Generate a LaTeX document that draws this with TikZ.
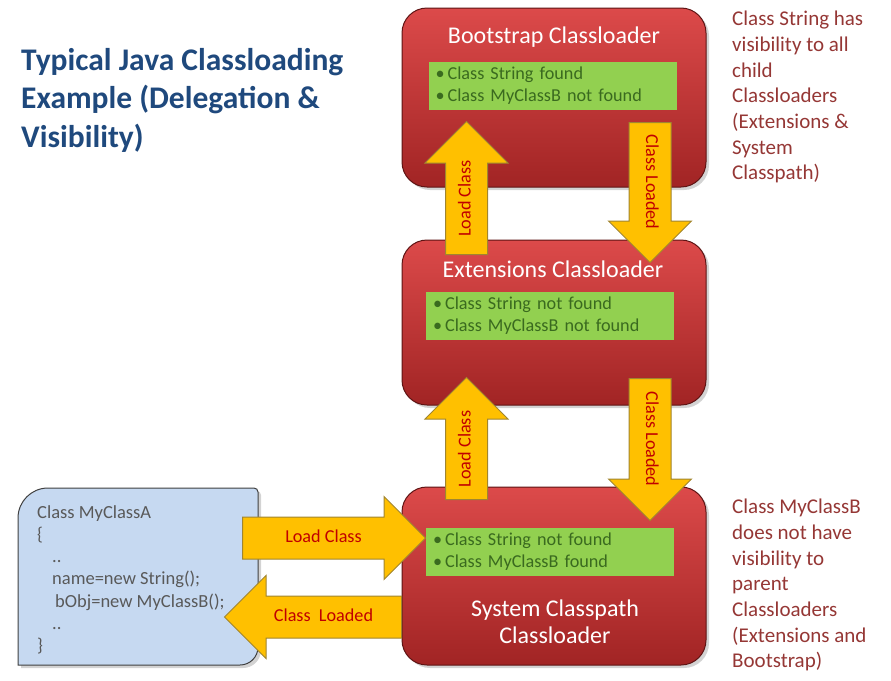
\documentclass[tikz,border=0pt]{standalone}
\usepackage{fontspec}
\setmainfont{Carlito}
\usetikzlibrary{shapes.arrows,shadows}
\definecolor{titleblue}{HTML}{1F497D}
\definecolor{notered}{HTML}{953735}
\definecolor{labelred}{HTML}{C00000}
\definecolor{loadertop}{HTML}{DC4A4A}
\definecolor{loaderbot}{HTML}{A12424}
\definecolor{loaderline}{HTML}{5E1414}
\definecolor{foundgreen}{HTML}{92D050}
\definecolor{foundtext}{HTML}{3A6A1F}
\definecolor{arrowfill}{HTML}{FFC000}
\definecolor{arrowline}{HTML}{A08530}
\definecolor{codefill}{HTML}{C6D9F1}
\definecolor{codetext}{HTML}{595959}
\tikzset{
  loader/.style={draw=loaderline, line width=1pt, rounded corners=25pt, top color=loadertop, bottom color=loaderbot, minimum width=304pt, drop shadow={shadow xshift=3pt, shadow yshift=-3pt, opacity=0.35}},
  loadername/.style={text=white, font=\fontsize{24}{27}\selectfont, align=center},
  foundbox/.style={fill=foundgreen, minimum width=248pt, minimum height=48pt, text width=234pt, align=left, text=foundtext, font=\fontsize{18.2}{22}\selectfont},
  blockarrow/.style={single arrow, draw=arrowline, line width=1pt, fill=arrowfill, single arrow head extend=20.5pt, single arrow tip angle=90, text height=12pt, text depth=4pt, inner ysep=12.5pt, inner xsep=0pt, anchor=tail, text=labelred, font=\fontsize{18.2}{20}\selectfont},
  note/.style={text=notered, align=left, font=\fontsize{21}{25.7}\selectfont, inner sep=0pt, anchor=north west}
}
\begin{document}
\begin{tikzpicture}[x=1pt,y=-1pt]
\useasboundingbox (0,0) rectangle (891,680);
% title
\node[text=titleblue, align=left, font=\bfseries\fontsize{31.5}{38.5}\selectfont, inner sep=0pt, anchor=north west] (title) at (21,48) {Typical Java Classloading\\Example (Delegation \&\\Visibility)};
% classloaders
\node[loader, minimum height=179pt] (boot) at (554,97.5) {};
\node[loader, minimum height=165pt] (ext) at (554,322.5) {};
\node[loader, minimum height=178pt] (sys) at (554,576) {};
\node[loadername] (bootname) at (554,37) {Bootstrap Classloader};
\node[loadername] (extname) at (553,269) {Extensions Classloader};
\node[loadername] (sysname) at (555,622) {System Classpath\\Classloader};
\node[foundbox] (bootfound) at (552.5,86) {\textbullet\,Class String found\\\textbullet\,Class MyClassB not found};
\node[foundbox] (extfound) at (550,316) {\textbullet\,Class String not found\\\textbullet\,Class MyClassB not found};
\node[foundbox] (sysfound) at (550,552) {\textbullet\,Class String not found\\\textbullet\,Class MyClassB found};
% calling class
\draw[draw=black!75, line width=1pt, fill=codefill, drop shadow={shadow xshift=3pt, shadow yshift=-3pt, opacity=0.35}] (18,665) -- (18,560) {[rounded corners=30pt] -- (18,488) -- (150,488)} {[rounded corners=4pt] -- (258,488) -- (258,560)} {[rounded corners=18pt] -- (258,665) -- (150,665)} -- cycle;
\node[text=codetext, align=left, font=\fontsize{18.5}{22.3}\selectfont, inner sep=0pt, anchor=north west] (code) at (37,505) {Class MyClassA\\\{\\\hspace*{15pt}..\\\hspace*{15pt}name=new String();\\\hspace*{18pt}bObj=new MyClassB();\\\hspace*{15pt}..\\\}};
% delegation arrows
\node[blockarrow, rotate=90, minimum height=133pt] (loadup) at (466.5,255) {Load Class};
\node[blockarrow, rotate=-90, minimum height=140pt] (loadeddown) at (650,122) {Class Loaded};
\node[blockarrow, rotate=90, minimum height=122pt] (loadupsys) at (466.5,500) {Load Class};
\node[blockarrow, rotate=-90, minimum height=142pt] (loadeddownsys) at (650,378) {Class Loaded};
\node[blockarrow, minimum height=183pt] (loadin) at (242,538) {Load Class};
\node[blockarrow, shape border rotate=180, anchor=center, minimum height=177pt] (loadedout) at (323.5,617) {Class~~Loaded};
% notes
\node[note] (bootnote) at (732,11) {Class String has\\visibility to all\\child\\Classloaders\\(Extensions \&\\System\\Classpath)};
\node[note] (sysnote) at (732,499) {Class MyClassB\\does not have\\visibility to\\parent\\Classloaders\\(Extensions and\\Bootstrap)};
\end{tikzpicture}
\end{document}
